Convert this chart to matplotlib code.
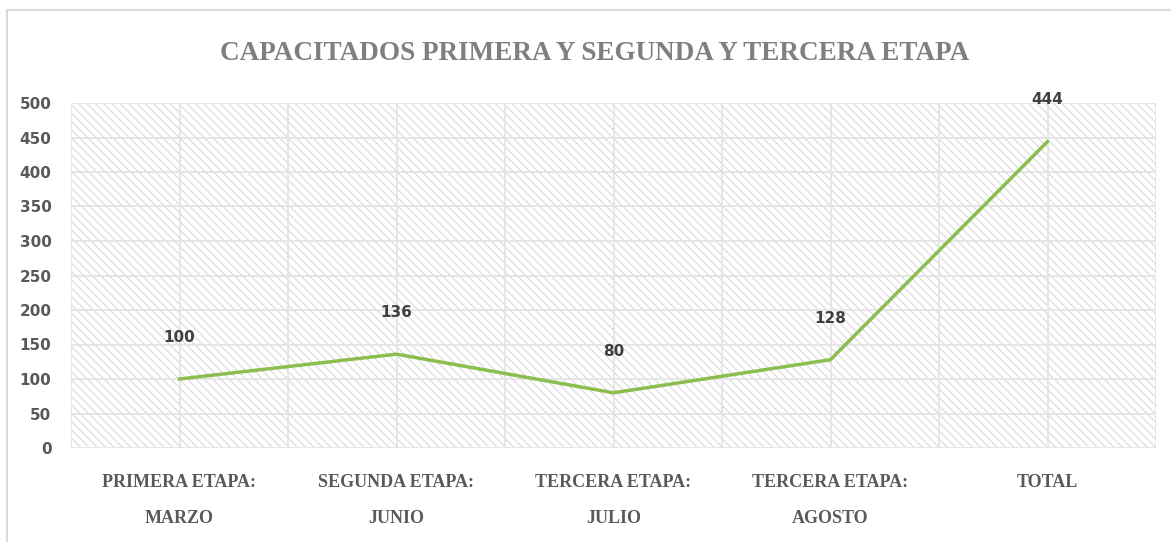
import matplotlib
matplotlib.use("Agg")
import matplotlib.pyplot as plt
from matplotlib.patches import Rectangle
from matplotlib.lines import Line2D

categories = ["PRIMERA ETAPA:\nMARZO", "SEGUNDA ETAPA:\nJUNIO", "TERCERA ETAPA:\nJULIO",
              "TERCERA ETAPA:\nAGOSTO", "TOTAL"]
values = [100, 136, 80, 128, 444]
yticks = [0, 50, 100, 150, 200, 250, 300, 350, 400, 450, 500]
title = "CAPACITADOS PRIMERA Y SEGUNDA Y TERCERA ETAPA"

W, H = 1171, 542
fig = plt.figure(figsize=(W / 100, H / 100), dpi=100)
fig.patch.set_facecolor("white")

x0, x1, y0, y1 = 71, 1156, 103, 448
ax = fig.add_axes([x0 / W, 1 - y1 / H, (x1 - x0) / W, (y1 - y0) / H])
ax.set_xlim(-0.5, len(categories) - 0.5)
ax.set_ylim(0, 500)

plt.rcParams['hatch.color'] = '#d9d9d9'
plt.rcParams['hatch.linewidth'] = 0.8
ax.add_patch(Rectangle((0, 0), 1, 1, transform=ax.transAxes, facecolor="white",
                       edgecolor="#d9d9d9", hatch="\\\\\\\\", linewidth=0, zorder=0))

for y in yticks:
    ax.axhline(y, color="#e3e3e3", lw=1.2, zorder=1)
for i in range(len(categories) * 2 + 1):
    ax.axvline(-0.5 + i * 0.5, color="#e3e3e3", lw=1.2, zorder=1)

xs = list(range(len(categories)))
ax.plot(xs, values, color="#8cbd4f", lw=2.5, zorder=3, solid_joinstyle="miter")

for x, v in zip(xs, values):
    ax.annotate(str(v), (x, v), xytext=(0, 30), textcoords="offset points",
                ha="center", va="center", fontsize=11, fontweight="bold",
                color="#404040", family="DejaVu Sans", zorder=4)

for s in ax.spines.values():
    s.set_visible(False)

ax.set_yticks(yticks)
ax.set_yticklabels([str(t) for t in yticks], fontsize=11, fontweight="bold",
                   color="#595959", family="DejaVu Sans")
ax.set_xticks(xs)
ax.set_xticklabels(categories, fontsize=13, color="#595959", family="Liberation Serif",
                   fontweight="bold", linespacing=2.45)
ax.tick_params(axis="both", length=0)
ax.tick_params(axis="x", pad=19)
ax.tick_params(axis="y", pad=14)

fig.text(595 / W, 1 - 53 / H, title, ha="center", va="center", fontsize=19.5,
         color="#7f7f7f", family="Liberation Serif", fontweight="bold")

fig.add_artist(Line2D([7 / W, 7 / W], [0, 1 - 10 / H], transform=fig.transFigure,
                      color="#d9d9d9", lw=1.5))
fig.add_artist(Line2D([7 / W, 1], [1 - 10 / H, 1 - 10 / H], transform=fig.transFigure,
                      color="#d9d9d9", lw=1.5))

fig.savefig("out.png", dpi=100)
